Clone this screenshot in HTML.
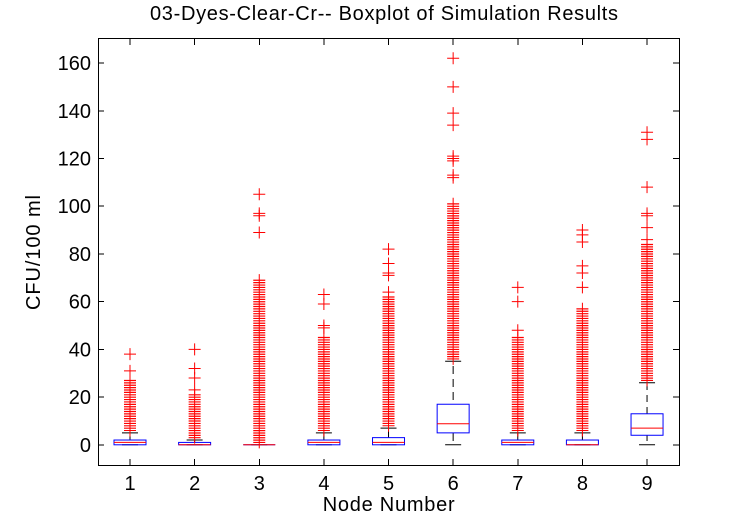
<!DOCTYPE html>
<html><head><meta charset="utf-8"><style>
html,body{margin:0;padding:0;background:#fff;}
svg{display:block;}
text{font-family:"Liberation Sans",Arial,sans-serif;fill:#000;}
</style></head><body>
<svg width="751" height="525" viewBox="0 0 751 525" xmlns="http://www.w3.org/2000/svg">
<defs><path id="m" d="M-6 0H6M0 -6V6" stroke="#f00" stroke-width="1" fill="none"/></defs>
<rect width="751" height="525" fill="#fff"/>
<!-- title -->
<text x="150" y="20" font-size="20" textLength="468" lengthAdjust="spacing">03-Dyes-Clear-Cr-- Boxplot of Simulation Results</text>
<!-- axes box -->
<rect x="98.5" y="38.5" width="581" height="427" fill="none" stroke="#000" stroke-width="1" shape-rendering="crispEdges"/>
<!-- ticks -->
<g stroke="#000" stroke-width="1" shape-rendering="crispEdges">
<path d="M130 465V459M194.63 465V459M259.26 465V459M323.89 465V459M388.52 465V459M453.15 465V459M517.78 465V459M582.41 465V459M647.04 465V459"/>
<path d="M130 39V45M194.63 39V45M259.26 39V45M323.89 39V45M388.52 39V45M453.15 39V45M517.78 39V45M582.41 39V45M647.04 39V45"/>
<path d="M98 444.8H104M98 397.08H104M98 349.36H104M98 301.64H104M98 253.92H104M98 206.2H104M98 158.48H104M98 110.76H104M98 63.04H104"/>
<path d="M679 444.8H673M679 397.08H673M679 349.36H673M679 301.64H673M679 253.92H673M679 206.2H673M679 158.48H673M679 110.76H673M679 63.04H673"/>
</g>
<!-- y tick labels -->
<g font-size="20" text-anchor="end">
<text x="91" y="451.8">0</text>
<text x="91" y="404.1">20</text>
<text x="91" y="356.4">40</text>
<text x="91" y="308.6">60</text>
<text x="91" y="260.9">80</text>
<text x="91" y="213.2">100</text>
<text x="91" y="165.5">120</text>
<text x="91" y="117.8">140</text>
<text x="91" y="70">160</text>
</g>
<!-- x tick labels -->
<g font-size="20" text-anchor="middle">
<text x="130" y="490">1</text>
<text x="194.63" y="490">2</text>
<text x="259.26" y="490">3</text>
<text x="323.89" y="490">4</text>
<text x="388.52" y="490">5</text>
<text x="453.15" y="490">6</text>
<text x="517.78" y="490">7</text>
<text x="582.41" y="490">8</text>
<text x="647.04" y="490">9</text>
</g>
<text x="322.7" y="511" font-size="20" textLength="132" lengthAdjust="spacing">Node Number</text>
<text transform="translate(40,310) rotate(-90)" x="0" y="0" font-size="20" textLength="115" lengthAdjust="spacing">CFU/100 ml</text>

<!-- whiskers -->
<g stroke="#000" stroke-width="1" fill="none">
<path d="M130 440.03V432.87M122 432.87H138M122 444.8H138"/>
<path d="M194.63 442.41V440.03M186.63 440.03H202.63M186.63 444.8H202.63"/>
<path d="M251.26 444.8H267.26"/>
<path d="M323.89 440.03V432.87M315.89 432.87H331.89M315.89 444.8H331.89"/>
<path d="M388.52 437.64V428.1M380.52 428.1H396.52M380.52 444.8H396.52"/>
<path d="M453.15 366V404.24" stroke-dasharray="8 5"/>
<path d="M453.15 432.87V441M445.15 361.29H461.15M445.15 444.8H461.15"/>
<path d="M517.78 440.03V432.87M509.78 432.87H525.78M509.78 444.8H525.78"/>
<path d="M582.41 440.03V432.87M574.41 432.87H590.41M574.41 444.8H590.41"/>
<path d="M647.04 383V413.78" stroke-dasharray="7 5"/>
<path d="M647.04 435.26V441M639.04 382.76H655.04M639.04 444.8H655.04"/>
</g>
<!-- boxes -->
<g stroke="#0000ff" stroke-width="1" fill="none">
<rect x="114" y="440.03" width="32" height="4.77"/>
<rect x="178.63" y="442.41" width="32" height="2.39"/>
<path d="M243.26 444.8H275.26"/>
<rect x="307.89" y="440.03" width="32" height="4.77"/>
<rect x="372.52" y="437.64" width="32" height="7.16"/>
<rect x="437.15" y="404.24" width="32" height="28.63"/>
<rect x="501.78" y="440.03" width="32" height="4.77"/>
<rect x="566.41" y="440.03" width="32" height="4.77"/>
<rect x="631.04" y="413.78" width="32" height="21.48"/>
</g>
<!-- medians -->
<g stroke="#f00" stroke-width="1">
<path d="M114 442.41H146M178.63 444.8H210.63M243.26 444.8H275.26M307.89 442.41H339.89M372.52 442.41H404.52M437.15 423.8H469.15M501.78 442.41H533.78M566.41 444.8H598.41M631.04 428.1H663.04"/>
</g>
<!-- dense outliers: stripes -->
<g stroke="#f00" stroke-width="12" stroke-dasharray="1.2 1.186" fill="none">
<path d="M130 379.88V431"/>
<path d="M194.63 394.19V438.2"/>
<path d="M259.26 279.67V443"/>
<path d="M323.89 336.93V431"/>
<path d="M388.52 296.37V426.3"/>
<path d="M453.15 203.31V359.5"/>
<path d="M517.78 336.93V431"/>
<path d="M582.41 308.3V431"/>
<path d="M647.04 243.88V381"/>
</g>
<!-- dense outliers: vertical lines -->
<g stroke="#f00" stroke-width="1">
<path d="M130 374.38V436.48M194.63 388.69V443.64M259.26 274.17V448.41M323.89 331.43V436.48M388.52 290.87V431.71M453.15 197.81V364.9M517.78 331.43V436.48M582.41 302.8V436.48M647.04 238.38V386.38"/>
</g>
<!-- isolated outliers -->
<g>
<use href="#m" x="130" y="370.83"/><use href="#m" x="130" y="354.13"/>
<use href="#m" x="194.63" y="389.92"/><use href="#m" x="194.63" y="378"/><use href="#m" x="194.63" y="368.45"/><use href="#m" x="194.63" y="349.36"/>
<use href="#m" x="259.26" y="232.45"/><use href="#m" x="259.26" y="215.74"/><use href="#m" x="259.26" y="213.36"/><use href="#m" x="259.26" y="194.27"/>
<use href="#m" x="323.89" y="327.89"/><use href="#m" x="323.89" y="325.5"/><use href="#m" x="323.89" y="304.03"/><use href="#m" x="323.89" y="294.48"/>
<use href="#m" x="388.52" y="292.1"/><use href="#m" x="388.52" y="275.39"/><use href="#m" x="388.52" y="273.01"/><use href="#m" x="388.52" y="263.46"/><use href="#m" x="388.52" y="249.15"/>
<use href="#m" x="453.15" y="177.57"/><use href="#m" x="453.15" y="175.18"/><use href="#m" x="453.15" y="160.87"/><use href="#m" x="453.15" y="158.48"/><use href="#m" x="453.15" y="156.09"/><use href="#m" x="453.15" y="125.08"/><use href="#m" x="453.15" y="113.15"/><use href="#m" x="453.15" y="86.9"/><use href="#m" x="453.15" y="58.27"/>
<use href="#m" x="517.78" y="330.27"/><use href="#m" x="517.78" y="301.64"/><use href="#m" x="517.78" y="287.32"/>
<use href="#m" x="582.41" y="287.32"/><use href="#m" x="582.41" y="273.01"/><use href="#m" x="582.41" y="265.85"/><use href="#m" x="582.41" y="241.99"/><use href="#m" x="582.41" y="234.83"/><use href="#m" x="582.41" y="230.06"/>
<use href="#m" x="647.04" y="239.6"/><use href="#m" x="647.04" y="227.67"/><use href="#m" x="647.04" y="215.74"/><use href="#m" x="647.04" y="213.36"/><use href="#m" x="647.04" y="187.11"/><use href="#m" x="647.04" y="139.39"/><use href="#m" x="647.04" y="132.23"/>
</g>
</svg>
</body></html>
